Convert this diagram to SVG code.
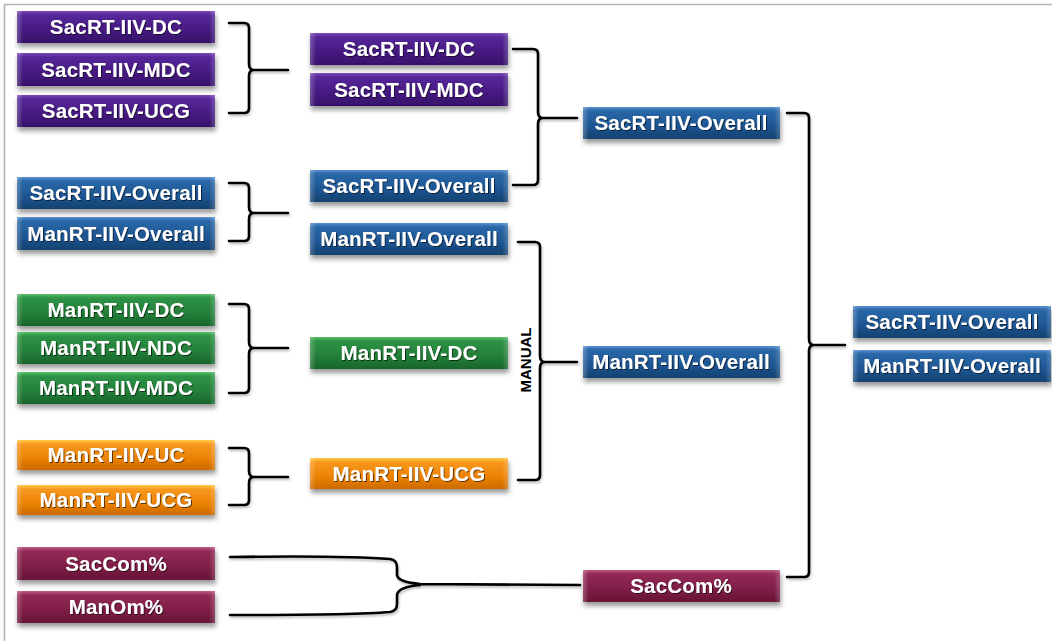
<svg xmlns="http://www.w3.org/2000/svg" width="1052" height="641" viewBox="0 0 1052 641">
  <defs>
    <linearGradient id="gPurple" x1="0" y1="0" x2="0" y2="1">
      <stop offset="0" stop-color="#7a4cb8"/>
      <stop offset="0.12" stop-color="#56279a"/>
      <stop offset="0.6" stop-color="#461a80"/>
      <stop offset="1" stop-color="#36106a"/>
    </linearGradient>
    <linearGradient id="gBlue" x1="0" y1="0" x2="0" y2="1">
      <stop offset="0" stop-color="#5a92d0"/>
      <stop offset="0.12" stop-color="#2a68a8"/>
      <stop offset="0.6" stop-color="#1d5592"/>
      <stop offset="1" stop-color="#14426f"/>
    </linearGradient>
    <linearGradient id="gGreen" x1="0" y1="0" x2="0" y2="1">
      <stop offset="0" stop-color="#5cbf6a"/>
      <stop offset="0.12" stop-color="#2e9346"/>
      <stop offset="0.6" stop-color="#237f39"/>
      <stop offset="1" stop-color="#18652b"/>
    </linearGradient>
    <linearGradient id="gOrange" x1="0" y1="0" x2="0" y2="1">
      <stop offset="0" stop-color="#ffc848"/>
      <stop offset="0.14" stop-color="#f7981e"/>
      <stop offset="0.6" stop-color="#ec8204"/>
      <stop offset="1" stop-color="#cc6a00"/>
    </linearGradient>
    <linearGradient id="gMaroon" x1="0" y1="0" x2="0" y2="1">
      <stop offset="0" stop-color="#c25a85"/>
      <stop offset="0.12" stop-color="#922a56"/>
      <stop offset="0.6" stop-color="#7f1e47"/>
      <stop offset="1" stop-color="#661436"/>
    </linearGradient>
    <linearGradient id="gEdge" x1="0" y1="0" x2="1" y2="0">
      <stop offset="0" stop-color="#fff" stop-opacity="0.25"/>
      <stop offset="0.03" stop-color="#fff" stop-opacity="0"/>
      <stop offset="0.97" stop-color="#fff" stop-opacity="0"/>
      <stop offset="1" stop-color="#fff" stop-opacity="0.2"/>
    </linearGradient>
    <filter id="boxShadow" x="-10%" y="-30%" width="120%" height="170%">
      <feDropShadow dx="1" dy="4" stdDeviation="2.5" flood-color="#000" flood-opacity="0.4"/>
    </filter>
    <filter id="textShadow" x="-10%" y="-30%" width="120%" height="170%">
      <feDropShadow dx="1" dy="1" stdDeviation="0.7" flood-color="#000" flood-opacity="0.6"/>
    </filter>
    <filter id="lineShadow" x="-10%" y="-10%" width="120%" height="120%">
      <feDropShadow dx="1" dy="2" stdDeviation="1.2" flood-color="#000" flood-opacity="0.25"/>
    </filter>
  </defs>
  <style>
    .box { stroke: none; }
    .purple { fill: url(#gPurple); }
    .blue { fill: url(#gBlue); }
    .green { fill: url(#gGreen); }
    .orange { fill: url(#gOrange); }
    .maroon { fill: url(#gMaroon); }
    .edge { fill: url(#gEdge); }
    .node { filter: url(#boxShadow); }
    .t { font-family: "Liberation Sans", Arial, sans-serif; font-weight: bold; font-size: 20.5px; letter-spacing: 0.2px; fill: #ffffff; text-anchor: middle; filter: url(#textShadow); }
    .link { fill: none; stroke: #000; stroke-width: 2.6; stroke-linecap: round; stroke-linejoin: round; }
    .label { font-family: "Liberation Sans", Arial, sans-serif; font-weight: bold; font-size: 15px; fill: #000; text-anchor: middle; }
  </style>

  <rect width="1052" height="641" fill="#ffffff"/>
  <!-- frame -->
  <path d="M4.5 641 V4.5 H1052" fill="none" stroke="#b4b4b4" stroke-width="1.6"/>

  <!-- connectors -->
  <g id="connectors" filter="url(#lineShadow)">
    <!-- column 1 braces -->
    <path class="link" d="M229 23 H244 Q249 23 249 28 V64 Q249 70 254 70 H288 M229 113 H244 Q249 113 249 108 V76 Q249 70 254 70"/>
    <path class="link" d="M229 183 H244 Q249 183 249 188 V207 Q249 213 254 213 H288 M229 241 H244 Q249 241 249 236 V219 Q249 213 254 213"/>
    <path class="link" d="M229 304 H244 Q249 304 249 309 V342 Q249 348 254 348 H288 M229 393 H244 Q249 393 249 388 V354 Q249 348 254 348"/>
    <path class="link" d="M229 448 H244 Q249 448 249 453 V471 Q249 477 254 477 H288 M229 505 H244 Q249 505 249 500 V483 Q249 477 254 477"/>
    <!-- column 1 percentages -->
    <path class="link" d="M230 557 C300 556 365 557 390 559 Q397 560 397 567 V575 Q398 582 420 584 L580 585 M230 615 C300 615 365 614 390 612 Q397 611 397 604 V595 Q398 587 420 585"/>
    <!-- column 2 braces -->
    <path class="link" d="M513 49 H533 Q538 49 538 54 V112 Q538 118 543 118 H577 M513 185 H533 Q538 185 538 180 V124 Q538 118 543 118"/>
    <path class="link" d="M518 242 H535 Q540 242 540 247 V356 Q540 362 545 362 H577 M518 480 H535 Q540 480 540 475 V368 Q540 362 545 362"/>
    <!-- column 3 brace -->
    <path class="link" d="M787 113 H804 Q809 113 809 118 V339 Q809 345 814 345 H845 M787 577 H804 Q809 577 809 572 V351 Q809 345 814 345"/>
  </g>
  <text class="label" transform="translate(531 360) rotate(-90)">MANUAL</text>

  <!-- column 1 -->
  <g id="c1-sac-dc" class="node"><rect class="box purple" x="17" y="11" width="198" height="32"/><rect class="edge" x="17" y="11" width="198" height="32"/><text class="t" x="116" y="34">SacRT-IIV-DC</text></g>
  <g id="c1-sac-mdc" class="node"><rect class="box purple" x="17" y="53" width="198" height="33"/><rect class="edge" x="17" y="53" width="198" height="33"/><text class="t" x="116" y="77">SacRT-IIV-MDC</text></g>
  <g id="c1-sac-ucg" class="node"><rect class="box purple" x="17" y="95" width="198" height="32"/><rect class="edge" x="17" y="95" width="198" height="32"/><text class="t" x="116" y="118">SacRT-IIV-UCG</text></g>
  <g id="c1-sac-overall" class="node"><rect class="box blue" x="17" y="177" width="198" height="32"/><rect class="edge" x="17" y="177" width="198" height="32"/><text class="t" x="116" y="200">SacRT-IIV-Overall</text></g>
  <g id="c1-man-overall" class="node"><rect class="box blue" x="17" y="217" width="198" height="33"/><rect class="edge" x="17" y="217" width="198" height="33"/><text class="t" x="116" y="241">ManRT-IIV-Overall</text></g>
  <g id="c1-man-dc" class="node"><rect class="box green" x="17" y="294" width="198" height="32"/><rect class="edge" x="17" y="294" width="198" height="32"/><text class="t" x="116" y="317">ManRT-IIV-DC</text></g>
  <g id="c1-man-ndc" class="node"><rect class="box green" x="17" y="332" width="198" height="32"/><rect class="edge" x="17" y="332" width="198" height="32"/><text class="t" x="116" y="355">ManRT-IIV-NDC</text></g>
  <g id="c1-man-mdc" class="node"><rect class="box green" x="17" y="372" width="198" height="32"/><rect class="edge" x="17" y="372" width="198" height="32"/><text class="t" x="116" y="395">ManRT-IIV-MDC</text></g>
  <g id="c1-man-uc" class="node"><rect class="box orange" x="17" y="440" width="198" height="30"/><rect class="edge" x="17" y="440" width="198" height="30"/><text class="t" x="116" y="462">ManRT-IIV-UC</text></g>
  <g id="c1-man-ucg" class="node"><rect class="box orange" x="17" y="485" width="198" height="30"/><rect class="edge" x="17" y="485" width="198" height="30"/><text class="t" x="116" y="507">ManRT-IIV-UCG</text></g>
  <g id="c1-saccom" class="node"><rect class="box maroon" x="17" y="547" width="198" height="33"/><rect class="edge" x="17" y="547" width="198" height="33"/><text class="t" x="116" y="571">SacCom%</text></g>
  <g id="c1-manom" class="node"><rect class="box maroon" x="17" y="591" width="198" height="32"/><rect class="edge" x="17" y="591" width="198" height="32"/><text class="t" x="116" y="614">ManOm%</text></g>

  <!-- column 2 -->
  <g id="c2-sac-dc" class="node"><rect class="box purple" x="310" y="33" width="198" height="32"/><rect class="edge" x="310" y="33" width="198" height="32"/><text class="t" x="409" y="56">SacRT-IIV-DC</text></g>
  <g id="c2-sac-mdc" class="node"><rect class="box purple" x="310" y="73" width="198" height="33"/><rect class="edge" x="310" y="73" width="198" height="33"/><text class="t" x="409" y="97">SacRT-IIV-MDC</text></g>
  <g id="c2-sac-overall" class="node"><rect class="box blue" x="310" y="170" width="198" height="32"/><rect class="edge" x="310" y="170" width="198" height="32"/><text class="t" x="409" y="193">SacRT-IIV-Overall</text></g>
  <g id="c2-man-overall" class="node"><rect class="box blue" x="310" y="223" width="198" height="32"/><rect class="edge" x="310" y="223" width="198" height="32"/><text class="t" x="409" y="246">ManRT-IIV-Overall</text></g>
  <g id="c2-man-dc" class="node"><rect class="box green" x="310" y="337" width="198" height="32"/><rect class="edge" x="310" y="337" width="198" height="32"/><text class="t" x="409" y="360">ManRT-IIV-DC</text></g>
  <g id="c2-man-ucg" class="node"><rect class="box orange" x="310" y="458" width="198" height="31"/><rect class="edge" x="310" y="458" width="198" height="31"/><text class="t" x="409" y="481">ManRT-IIV-UCG</text></g>

  <!-- column 3 -->
  <g id="c3-sac-overall" class="node"><rect class="box blue" x="583" y="107" width="197" height="32"/><rect class="edge" x="583" y="107" width="197" height="32"/><text class="t" x="681" y="130">SacRT-IIV-Overall</text></g>
  <g id="c3-man-overall" class="node"><rect class="box blue" x="583" y="346" width="197" height="32"/><rect class="edge" x="583" y="346" width="197" height="32"/><text class="t" x="681" y="369">ManRT-IIV-Overall</text></g>
  <g id="c3-saccom" class="node"><rect class="box maroon" x="583" y="570" width="197" height="32"/><rect class="edge" x="583" y="570" width="197" height="32"/><text class="t" x="681" y="593">SacCom%</text></g>

  <!-- column 4 -->
  <g id="c4-sac-overall" class="node"><rect class="box blue" x="853" y="306" width="198" height="32"/><rect class="edge" x="853" y="306" width="198" height="32"/><text class="t" x="952" y="329">SacRT-IIV-Overall</text></g>
  <g id="c4-man-overall" class="node"><rect class="box blue" x="853" y="350" width="198" height="32"/><rect class="edge" x="853" y="350" width="198" height="32"/><text class="t" x="952" y="373">ManRT-IIV-Overall</text></g>
</svg>
